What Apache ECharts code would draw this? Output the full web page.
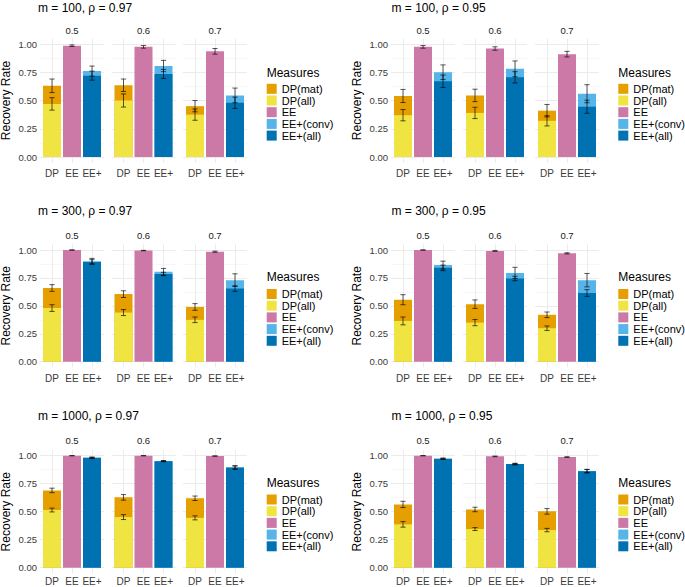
<!DOCTYPE html>
<html>
<head>
<meta charset="utf-8">
<script src="https://cdn.jsdelivr.net/npm/echarts@6/dist/echarts.min.js"></script>
<style>
  html, body { margin: 0; padding: 0; background: #fff; }
  #chart { width: 685px; height: 587px; }
</style>
</head>
<body>
<div id="chart"></div>
<script>
// panel order: m=100 ρ=0.97, m=100 ρ=0.95, m=300 ρ=0.97, m=300 ρ=0.95, m=1000 ρ=0.97, m=1000 ρ=0.95
const panelTitles = ['m = 100, ρ = 0.97', 'm = 100, ρ = 0.95', 'm = 300, ρ = 0.97',
    'm = 300, ρ = 0.95', 'm = 1000, ρ = 0.97', 'm = 1000, ρ = 0.95'];
const facets = ['0.5', '0.6', '0.7'];
const methods = ['DP', 'EE', 'EE+'];
const measures = ['DP(mat)', 'DP(all)', 'EE', 'EE+(conv)', 'EE+(all)'];
const colors = ['#E69F00', '#F0E442', '#CC79A7', '#56B4E9', '#0072B2'];
const yTicks = [0, 0.25, 0.5, 0.75, 1];
const yMinorTicks = [0.125, 0.375, 0.625, 0.875];

// one row per panel, one column per facet (0.5, 0.6, 0.7); *Err = half length of error bar
const dpMat = [[0.63, 0.635, 0.45], [0.54, 0.545, 0.41], [0.66, 0.605, 0.49],
    [0.555, 0.515, 0.42], [0.69, 0.628, 0.62], [0.565, 0.52, 0.503]];
const dpMatErr = [[0.06, 0.055, 0.05], [0.058, 0.055, 0.055], [0.03, 0.03, 0.03],
    [0.045, 0.038, 0.025], [0.02, 0.025, 0.02], [0.028, 0.02, 0.025]];
const dpAll = [[0.47, 0.50, 0.375], [0.37, 0.39, 0.32], [0.48, 0.44, 0.375],
    [0.365, 0.35, 0.30], [0.515, 0.452, 0.445], [0.387, 0.345, 0.336]];
const dpAllErr = [[0.055, 0.058, 0.05], [0.05, 0.05, 0.045], [0.03, 0.027, 0.025],
    [0.035, 0.028, 0.02], [0.017, 0.022, 0.018], [0.025, 0.013, 0.015]];
const ee = [[0.985, 0.975, 0.935], [0.975, 0.96, 0.91], [1.0, 0.995, 0.985],
    [1.0, 0.992, 0.97], [1.0, 1.0, 0.997], [1.0, 0.994, 0.988]];
const eeErr = [[0.007, 0.012, 0.025], [0.012, 0.015, 0.025], [0.001, 0.002, 0.005],
    [0.001, 0.004, 0.005], [0.001, 0.001, 0.002], [0.001, 0.003, 0.003]];
const eeConv = [[0.76, 0.805, 0.545], [0.75, 0.78, 0.56], [0.90, 0.805, 0.73],
    [0.865, 0.795, 0.73], [0.982, 0.952, 0.895], [0.973, 0.926, 0.863]];
const eeConvErr = [[0.045, 0.05, 0.065], [0.065, 0.07, 0.08], [0.025, 0.03, 0.057],
    [0.035, 0.05, 0.06], [0.005, 0.004, 0.015], [0.005, 0.006, 0.015]];
const eeAll = [[0.72, 0.735, 0.48], [0.67, 0.705, 0.445], [0.893, 0.785, 0.655],
    [0.84, 0.745, 0.615], [0.981, 0.951, 0.894], [0.972, 0.925, 0.862]];
const eeAllErr = [[0.04, 0.04, 0.05], [0.055, 0.05, 0.058], [0.02, 0.015, 0.025],
    [0.025, 0.02, 0.03], [0.005, 0.004, 0.015], [0.005, 0.006, 0.015]];

const values = [dpMat, dpAll, ee, eeConv, eeAll];
const errors = [dpMatErr, dpAllErr, eeErr, eeConvErr, eeAllErr];
const measurePos = [1, 1, 2, 3, 3]; // which method bar each measure sits on

// layout
const font = 'Liberation Sans, Arial, Helvetica, sans-serif';
const facetLeft = [[40, 111.5, 183], [391, 463, 535]];
const facetWidth = 64;
const rowTop = [44, 250, 455.7];     // pixel y of 1.00
const rowBase = [157, 361.7, 567.7]; // pixel y of 0.00
const xLabelMargin = [6, 6, 3];
const titleX = [38, 391.5];
const titleY = [7.5, 211, 416];
const stripY = [30, 235.3, 440.5];
const yNameX = [5.5, 356.7];
const legendX = [266.7, 618.3];
const legendTitleY = [72.5, 277, 483];
const legendTop = [83.3, 288.5, 494];
const axisTextColor = '#3a3a3a';

const option = {
    animation: false,
    backgroundColor: '#ffffff',
    grid: [], xAxis: [], yAxis: [], series: [], legend: [], graphic: []
};

function errorBars(params, api) {
    const x = api.value(0);
    const top = api.coord([x, api.value(2)]);
    const bot = api.coord([x, api.value(1)]);
    const half = api.coord([x + 0.13, 0])[0] - api.coord([x, 0])[0];
    const style = {stroke: 'rgba(0,0,0,0.72)', lineWidth: 0.9};
    return {
        type: 'group',
        children: [
            {type: 'line', shape: {x1: top[0], y1: top[1], x2: bot[0], y2: bot[1]}, style: style},
            {type: 'line', shape: {x1: top[0] - half, y1: top[1], x2: top[0] + half, y2: top[1]}, style: style},
            {type: 'line', shape: {x1: bot[0] - half, y1: bot[1], x2: bot[0] + half, y2: bot[1]}, style: style}
        ]
    };
}

for (let p = 0; p < 6; p++) {
    const r = Math.floor(p / 2), c = p % 2;
    const h = rowBase[r] - rowTop[r];

    option.graphic.push({
        type: 'text', x: titleX[c], y: titleY[r],
        style: {text: panelTitles[p], font: '12px ' + font, fill: '#000', textAlign: 'left', textVerticalAlign: 'middle'}
    });
    option.graphic.push({
        type: 'text', x: yNameX[c], y: (rowTop[r] + rowBase[r]) / 2, rotation: Math.PI / 2,
        style: {text: 'Recovery Rate', font: '12px ' + font, fill: '#000', textAlign: 'center', textVerticalAlign: 'middle'}
    });
    option.graphic.push({
        type: 'text', x: legendX[c], y: legendTitleY[r],
        style: {text: 'Measures', font: '12px ' + font, fill: '#000', textAlign: 'left', textVerticalAlign: 'middle'}
    });
    option.legend.push({
        data: measures, orient: 'vertical', left: legendX[c], top: legendTop[r],
        padding: 0, itemWidth: 10, itemHeight: 10, itemGap: 0.7, icon: 'rect', selectedMode: false,
        textStyle: {fontSize: 11, lineHeight: 10, color: '#000', fontFamily: font}
    });

    for (let f = 0; f < 3; f++) {
        const gi = p * 3 + f;
        option.grid.push({
            left: facetLeft[c][f], top: rowTop[r] - 0.05 * h, width: facetWidth, height: 1.1 * h,
            outerBoundsMode: 'none', containLabel: false
        });
        option.graphic.push({
            type: 'text', x: facetLeft[c][f] + facetWidth / 2, y: stripY[r],
            style: {text: facets[f], font: '9.5px ' + font, fill: '#1a1a1a', textAlign: 'center', textVerticalAlign: 'middle'}
        });
        option.xAxis.push({
            gridIndex: gi, type: 'value', min: 0.4, max: 3.6,
            axisLine: {show: false},
            axisTick: {show: false, customValues: [1, 2, 3]},
            axisLabel: {
                customValues: [1, 2, 3], formatter: v => methods[Math.round(v) - 1],
                fontSize: 10, lineHeight: 10, color: axisTextColor, margin: xLabelMargin[r], fontFamily: font
            },
            splitLine: {show: true, lineStyle: {color: '#ebebeb', width: 1}}
        });
        option.yAxis.push({
            gridIndex: gi, type: 'value', min: -0.05, max: 1.05,
            axisLine: {show: false},
            axisTick: {show: false, customValues: yTicks},
            axisLabel: {
                show: f === 0, customValues: yTicks, formatter: v => v.toFixed(2),
                fontSize: 9.5, color: axisTextColor, margin: 3, fontFamily: font
            },
            splitLine: {show: true, lineStyle: {color: '#ebebeb', width: 1}}
        });
        option.yAxis.push({
            gridIndex: gi, type: 'value', min: -0.05, max: 1.05, position: 'left',
            axisLine: {show: false},
            axisTick: {show: false, customValues: yMinorTicks},
            axisLabel: {show: false, customValues: yMinorTicks},
            splitLine: {show: true, lineStyle: {color: '#f1f1f1', width: 0.6}}
        });

        const bars = [];
        for (let m = 0; m < measures.length; m++) {
            option.series.push({
                type: 'bar', name: measures[m], xAxisIndex: gi, yAxisIndex: 2 * gi,
                barWidth: 18, barGap: '-100%',
                itemStyle: {color: colors[m]},
                data: [[measurePos[m], values[m][p][f]]]
            });
            bars.push([measurePos[m], values[m][p][f] - errors[m][p][f], values[m][p][f] + errors[m][p][f]]);
        }
        option.series.push({
            type: 'custom', name: 'error', xAxisIndex: gi, yAxisIndex: 2 * gi, z: 5,
            renderItem: errorBars, encode: {x: 0, y: [1, 2]}, data: bars
        });
    }
}

const chart = echarts.init(document.getElementById('chart'), null, {renderer: 'svg'});
chart.setOption(option);
</script>
</body>
</html>
